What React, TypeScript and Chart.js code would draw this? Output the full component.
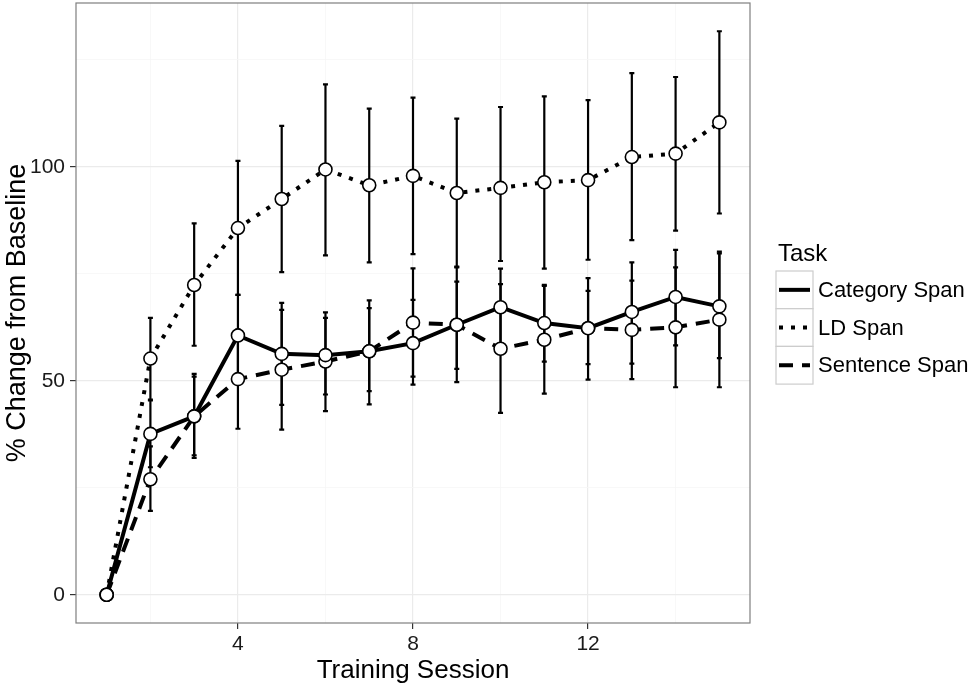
import React, { useEffect, useRef } from "react";
import { Chart, registerables } from "chart.js";

Chart.register(...registerables);

const sessions = [1, 2, 3, 4, 5, 6, 7, 8, 9, 10, 11, 12, 13, 14, 15];

const categoryMean = [0, 37.6, 41.7, 60.6, 56.3, 56.0, 56.9, 58.8, 63.1, 67.2, 63.5, 62.3, 66.1, 69.6, 67.4];
const categoryUpper = [0, 45.4, 51.6, 70.1, 68.2, 66.0, 68.8, 68.9, 73.2, 76.2, 72.4, 71.0, 77.7, 80.6, 79.8];
const categoryLower = [0, 29.8, 32.0, 51.1, 44.4, 46.8, 44.5, 49.1, 52.8, 58.2, 54.5, 53.9, 54.0, 58.3, 55.3];

const ldMean = [0, 55.2, 72.4, 85.7, 92.5, 99.4, 95.7, 97.9, 93.9, 95.1, 96.4, 96.9, 102.3, 103.1, 110.4];
const ldUpper = [0, 64.7, 86.8, 101.4, 109.6, 119.3, 113.6, 116.2, 111.3, 114.0, 116.5, 115.6, 121.9, 121.0, 131.7];
const ldLower = [0, 45.6, 58.2, 70.1, 75.4, 79.3, 77.7, 79.6, 76.7, 78.0, 76.2, 78.3, 82.9, 85.1, 89.1];

const sentenceMean = [0, 27.0, 41.7, 50.4, 52.6, 54.5, 56.9, 63.6, 63.1, 57.5, 59.6, 62.3, 61.9, 62.5, 64.3];
const sentenceUpper = [0, 34.7, 51.0, 62.0, 66.6, 64.7, 67.0, 76.3, 76.5, 72.6, 72.2, 74.0, 73.4, 76.5, 80.2];
const sentenceLower = [0, 19.6, 32.6, 38.8, 38.6, 42.9, 47.6, 51.0, 49.7, 42.5, 47.0, 50.3, 50.4, 48.5, 48.5];

const seriesNames = ["Category Span", "LD Span", "Sentence Span"];
const seriesDashes: number[][] = [[], [4, 8], [14, 9]];

const xGridValues = [2, 4, 6, 8, 10, 12, 14];
const xTickLabels = [4, 8, 12];
const yGridValues = [0, 25, 50, 75, 100, 125];
const yTickLabels = [0, 50, 100];

const legendTitle = "Task";
const xTitle = "Training Session";
const yTitle = "% Change from Baseline";

const FONT = "'Liberation Sans', Arial, Helvetica, sans-serif";

const zeroPad = (scale: any) => {
  scale.paddingTop = 0;
  scale.paddingBottom = 0;
  scale.paddingLeft = 0;
  scale.paddingRight = 0;
};

export default function App() {
  const canvasRef = useRef<HTMLCanvasElement | null>(null);

  useEffect(() => {
    const canvas = canvasRef.current;
    if (!canvas) return;

    const means = [categoryMean, ldMean, sentenceMean];
    const uppers = [categoryUpper, ldUpper, sentenceUpper];
    const lowers = [categoryLower, ldLower, sentenceLower];

    const toPoints = (arr: number[]) => sessions.map((s, i) => ({ x: s, y: arr[i] }));

    const lineSets = means.map((m, k) => ({
      label: seriesNames[k],
      data: toPoints(m),
      borderColor: "#000000",
      borderWidth: 4,
      borderDash: seriesDashes[k],
      borderCapStyle: "butt" as const,
      pointRadius: 0,
      fill: false,
      tension: 0,
      order: 2,
    }));
    const pointSets = means.map((m, k) => ({
      label: seriesNames[k] + " points",
      data: toPoints(m),
      showLine: false,
      pointRadius: 6.5,
      pointBorderWidth: 1.6,
      pointBackgroundColor: "#ffffff",
      pointBorderColor: "#000000",
      order: 1,
    }));

    const errorBars = {
      id: "errorBars",
      beforeDatasetsDraw(chart: any) {
        const ctx = chart.ctx;
        const xs = chart.scales.x;
        const ys = chart.scales.y;
        ctx.save();
        ctx.strokeStyle = "#000000";
        ctx.lineWidth = 2.2;
        ctx.setLineDash([]);
        for (let k = 0; k < 3; k++) {
          for (let i = 0; i < sessions.length; i++) {
            const up = uppers[k][i];
            const lo = lowers[k][i];
            if (up === lo) continue;
            const px = xs.getPixelForValue(sessions[i]);
            const pu = ys.getPixelForValue(up);
            const pl = ys.getPixelForValue(lo);
            ctx.beginPath();
            ctx.moveTo(px, pu);
            ctx.lineTo(px, pl);
            ctx.moveTo(px - 2.5, pu);
            ctx.lineTo(px + 2.5, pu);
            ctx.moveTo(px - 2.5, pl);
            ctx.lineTo(px + 2.5, pl);
            ctx.stroke();
          }
        }
        ctx.restore();
      },
    };

    const panelAndLegend = {
      id: "panelAndLegend",
      afterDraw(chart: any) {
        const ctx = chart.ctx;
        const a = chart.chartArea;
        ctx.save();
        ctx.setLineDash([]);
        ctx.strokeStyle = "#7f7f7f";
        ctx.lineWidth = 1.2;
        ctx.strokeRect(a.left, a.top, a.right - a.left, a.bottom - a.top);

        const lx = 776;
        const top = 271;
        const rowH = 37.7;
        const boxW = 37;
        ctx.fillStyle = "#000000";
        ctx.font = `24px ${FONT}`;
        ctx.textBaseline = "alphabetic";
        ctx.textAlign = "left";
        ctx.fillText(legendTitle, lx + 2, 261);
        for (let k = 0; k < 3; k++) {
          const y0 = top + k * rowH;
          ctx.fillStyle = "#ffffff";
          ctx.fillRect(lx, y0, boxW, rowH);
          ctx.strokeStyle = "#cccccc";
          ctx.lineWidth = 1.2;
          ctx.setLineDash([]);
          ctx.strokeRect(lx, y0, boxW, rowH);
          const my = y0 + rowH / 2;
          ctx.strokeStyle = "#000000";
          ctx.lineWidth = 4;
          ctx.lineCap = "butt";
          ctx.setLineDash(seriesDashes[k]);
          ctx.beginPath();
          ctx.moveTo(lx + 3, my);
          ctx.lineTo(lx + boxW - 3, my);
          ctx.stroke();
          ctx.setLineDash([]);
          ctx.fillStyle = "#000000";
          ctx.font = `22px ${FONT}`;
          ctx.textBaseline = "middle";
          ctx.fillText(seriesNames[k], 818, my + 1);
        }
        ctx.restore();
      },
    };

    const chart = new Chart(canvas, {
      type: "line",
      data: { datasets: [...pointSets, ...lineSets] as any },
      options: {
        animation: false,
        responsive: true,
        maintainAspectRatio: false,
        layout: { autoPadding: false, padding: { top: 3, right: 220, left: 0, bottom: 0 } },
        plugins: {
          legend: { display: false },
          tooltip: { enabled: false },
        },
        scales: {
          x: {
            type: "linear",
            min: 0.3,
            max: 15.7,
            afterBuildTicks: (scale: any) => {
              scale.ticks = xGridValues.map((v) => ({ value: v }));
            },
            afterFit: (scale: any) => {
              scale.height = 67;
              zeroPad(scale);
            },
            grid: {
              color: (c: any) => (xTickLabels.includes(c.tick?.value) ? "#ebebeb" : "#f6f6f6"),
              lineWidth: (c: any) => (xTickLabels.includes(c.tick?.value) ? 1.2 : 0.8),
              tickColor: (c: any) => (xTickLabels.includes(c.tick?.value) ? "#333333" : "rgba(0,0,0,0)"),
              tickLength: 6,
              drawTicks: true,
            },
            border: { display: false },
            ticks: {
              autoSkip: false,
              maxRotation: 0,
              padding: 3,
              color: "#1a1a1a",
              font: { family: FONT, size: 21 },
              callback: (v: any) => (xTickLabels.includes(Number(v)) ? String(v) : ""),
            },
            title: {
              display: true,
              text: xTitle,
              color: "#000000",
              font: { family: FONT, size: 26 },
              padding: { top: 0, bottom: 4 },
            },
          },
          y: {
            type: "linear",
            min: -6.6,
            max: 138.3,
            afterBuildTicks: (scale: any) => {
              scale.ticks = yGridValues.map((v) => ({ value: v }));
            },
            afterFit: (scale: any) => {
              scale.width = 76;
              zeroPad(scale);
            },
            grid: {
              color: (c: any) => (yTickLabels.includes(c.tick?.value) ? "#ebebeb" : "#f6f6f6"),
              lineWidth: (c: any) => (yTickLabels.includes(c.tick?.value) ? 1.2 : 0.8),
              tickColor: (c: any) => (yTickLabels.includes(c.tick?.value) ? "#333333" : "rgba(0,0,0,0)"),
              tickLength: 6,
              drawTicks: true,
            },
            border: { display: false },
            ticks: {
              autoSkip: false,
              padding: 5,
              color: "#1a1a1a",
              font: { family: FONT, size: 21 },
              callback: (v: any) => (yTickLabels.includes(Number(v)) ? String(v) : ""),
            },
            title: {
              display: true,
              text: yTitle,
              color: "#000000",
              font: { family: FONT, size: 27 },
              padding: { top: 1, bottom: 0 },
            },
          },
        },
      },
      plugins: [errorBars, panelAndLegend],
    });

    return () => chart.destroy();
  }, []);

  return (
    <div style={{ position: "absolute", left: 0, top: 0, width: 970, height: 690, background: "#ffffff" }}>
      <canvas ref={canvasRef} />
    </div>
  );
}
